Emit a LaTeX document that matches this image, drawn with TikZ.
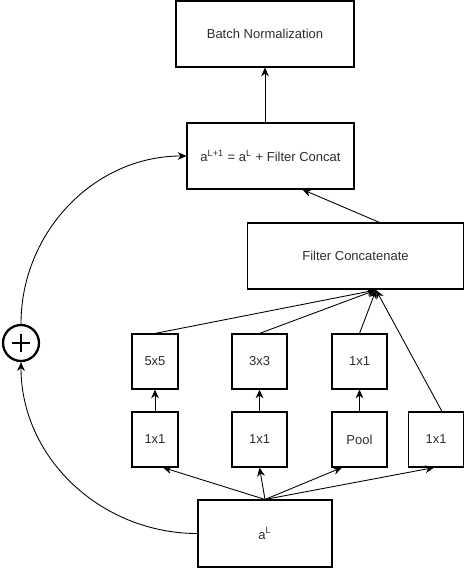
\documentclass[tikz,border=0pt]{standalone}
\usepackage{fontspec}
\setmainfont{Liberation Sans}
\usetikzlibrary{arrows.meta,calc}
\definecolor{labelgrey}{RGB}{45,45,45}

\begin{document}
\begin{tikzpicture}[x=0.02cm, y=-0.02cm,
  box/.style={draw, line width=0.65pt, inner sep=0pt, text=labelgrey,
    font=\fontsize{7.4}{9}\selectfont},
  cell/.style={box, minimum width=1.1cm, minimum height=1.1cm},
  arr/.style={-{Stealth[length=5pt,width=4.4pt]}, line width=0.5pt}]
  \useasboundingbox (0,0) rectangle (472,568);

  \node [box, minimum width=3.56cm, minimum height=1.32cm] (bn) at (265,34) {Batch Normalization};
  \node [box, minimum width=3.34cm, minimum height=1.32cm] (a1) at (270.5,156)
    {a\textsuperscript{L+1} = a\textsuperscript{L} + Filter Concat};
  \node [box, minimum width=4.32cm, minimum height=1.32cm] (fc) at (355.5,256) {Filter Concatenate};

  \node [cell, minimum width=0.92cm] (u1) at (155,361.5) {5x5};
  \node [cell] (u2) at (259.5,361.5) {3x3};
  \node [cell] (u3) at (359.5,361.5) {1x1};
  \node [cell, minimum width=0.92cm] (l1) at (155,439.5) {1x1};
  \node [cell] (l2) at (259.5,439.5) {1x1};
  \node [cell] (l3) at (359.5,439.5) {Pool};
  \node [cell] (l4) at (436,439.5) {1x1};

  \node [box, minimum width=2.68cm, minimum height=1.34cm] (al) at (265,533.5) {a\textsuperscript{L}};
  \node [circle, draw, line width=1.3pt, minimum size=0.72cm, inner sep=0pt] (plus) at (21,343) {};
  \draw [line width=1.3pt] ($(plus.center)+(-9,0)$) -- ($(plus.center)+(9,0)$);
  \draw [line width=1.3pt] ($(plus.center)+(0,-9)$) -- ($(plus.center)+(0,9)$);

  \coordinate (fcin) at (376,290);

  % bottom fan
  \draw [arr] (al.north) -- (l1.-74);
  \draw [arr] (al.north) -- (l2.south);
  \draw [arr] (al.north) -- (l3.-122);
  \draw [arr] (al.north) -- (l4.-94);

  \draw [arr] (l1.north) -- (u1.south);
  \draw [arr] (l2.north) -- (u2.south);
  \draw [arr] (l3.north) -- (u3.south);

  % into the concat
  \draw [arr] (u1.north) -- (fcin);
  \draw [arr] (u2.north) -- (fcin);
  \draw [arr] (u3.north) -- (fcin);
  \draw [arr] ($(l4.north)+(6,0)$) -- (fcin);

  \draw [arr] ($(fc.north)+(24,0)$) -- ($(a1.south)+(32,0)$);
  \draw [arr] (a1.north -| bn.south) -- (bn.south);

  % skip path
  \draw [arr] (al.west) to [out=180,in=-90] (plus.south);
  \draw [arr] (plus.north) to [out=90,in=180] (a1.west);
\end{tikzpicture}
\end{document}
